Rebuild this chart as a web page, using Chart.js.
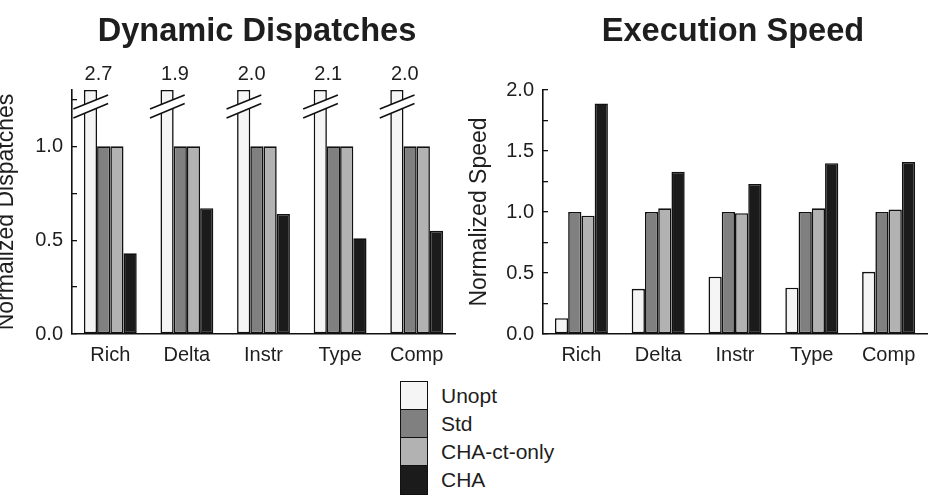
<!DOCTYPE html>
<html>
<head>
<meta charset="utf-8">
<script src="https://cdn.jsdelivr.net/npm/chart.js@4.4.1/dist/chart.umd.min.js"></script>
<style>
  html, body { margin: 0; padding: 0; background: #fff; }
  body { width: 934px; height: 497px; overflow: hidden; position: relative;
         font-family: 'Liberation Sans', Arial, sans-serif; color: #1e1e1e; }
  #c1 { position: absolute; left: 0; top: 0; }
  #c2 { position: absolute; left: 467px; top: 0; }
  #legend { position: absolute; left: 400px; top: 381px; width: 200px; height: 116px; }
  .sw { position: absolute; left: 0; width: 27.5px; height: 29.5px; box-sizing: border-box; border: 1.6px solid #111; }
  .lb { position: absolute; left: 41px; font-size: 21px; line-height: 29.5px; height: 29.5px; white-space: nowrap; }
</style>
</head>
<body>
<canvas id="c1" width="467" height="370"></canvas>
<canvas id="c2" width="467" height="370"></canvas>
<div id="legend"></div>
<script>
// ---- data ----
const categories   = ['Rich', 'Delta', 'Instr', 'Type', 'Comp'];
const seriesNames  = ['Unopt', 'Std', 'CHA-ct-only', 'CHA'];
const seriesColors = ['#f5f5f5', '#808080', '#b2b2b2', '#1b1b1b'];

// Dynamic Dispatches (normalized)
const dispUnopt  = [2.7, 1.9, 2.0, 2.1, 2.0];
const dispStd    = [1.0, 1.0, 1.0, 1.0, 1.0];
const dispCtOnly = [1.0, 1.0, 1.0, 1.0, 1.0];
const dispCha    = [0.43, 0.67, 0.64, 0.51, 0.55];

// Execution Speed (normalized)
const speedUnopt  = [0.13, 0.37, 0.47, 0.38, 0.51];
const speedStd    = [1.0, 1.0, 1.0, 1.0, 1.0];
const speedCtOnly = [0.97, 1.03, 0.99, 1.03, 1.02];
const speedCha    = [1.89, 1.33, 1.23, 1.40, 1.41];

// axis ticks
const dispTicks  = [0, 0.25, 0.5, 0.75, 1.0, 1.25];
const speedTicks = [0, 0.25, 0.5, 0.75, 1.0, 1.25, 1.5, 1.75, 2.0];
const DISP_MAX = 1.3;
const SPEED_MAX = 2.0;

// ---- styling ----
const FONT = "'Liberation Sans', Arial, sans-serif";
const TXT = '#1e1e1e';
const INK = '#111';

function isHalf(v) { return Math.abs(v * 2 - Math.round(v * 2)) < 1e-9; }

function makeDatasets(series) {
  return series.map((d, i) => ({
    label: seriesNames[i],
    data: d,
    backgroundColor: seriesColors[i],
    borderColor: INK,
    borderWidth: 1.6,
    borderSkipped: false,
    categoryPercentage: 0.69,
    barPercentage: 1.0
  }));
}

// shift the title horizontally (title box otherwise centred on the canvas)
const titleShift = {
  id: 'titleShift',
  afterLayout(chart, args, opts) {
    const t = chart.titleBlock;
    if (t) { t.left += opts.dx || 0; t.right += opts.dx || 0; }
  }
};

// Break marks + real values above clipped bars (left chart)
const breakPlugin = {
  id: 'breakMarks',
  afterDatasetsDraw(chart) {
    const ctx = chart.ctx;
    const top = chart.chartArea.top;
    const meta = chart.getDatasetMeta(0);
    ctx.save();
    meta.data.forEach((bar, i) => {
      const v = dispUnopt[i];
      if (v <= DISP_MAX) return;
      const w = bar.width;
      const L = bar.x - w / 2, R = bar.x + w / 2;
      const x1 = L - 10.5, x2 = R + 11;
      const u1 = top + 19, u2 = top + 5;
      const l1 = top + 28, l2 = top + 13.5;
      ctx.fillStyle = '#fff';
      ctx.beginPath();
      ctx.moveTo(x1, u1); ctx.lineTo(x2, u2); ctx.lineTo(x2, l2); ctx.lineTo(x1, l1);
      ctx.closePath(); ctx.fill();
      ctx.strokeStyle = INK; ctx.lineWidth = 1.6;
      ctx.beginPath();
      ctx.moveTo(x1, u1); ctx.lineTo(x2, u2);
      ctx.moveTo(x1, l1); ctx.lineTo(x2, l2);
      ctx.stroke();
      ctx.fillStyle = TXT;
      ctx.font = '20px ' + FONT;
      ctx.textAlign = 'center';
      ctx.textBaseline = 'middle';
      ctx.fillText(v.toFixed(1), bar.x + w * 0.6, top - 15.5);
    });
    ctx.restore();
  }
};

function makeChart(canvasId, opts) {
  return new Chart(document.getElementById(canvasId), {
    type: 'bar',
    data: { labels: categories, datasets: makeDatasets(opts.series) },
    options: {
      responsive: false,
      animation: false,
      devicePixelRatio: 1,
      layout: { padding: { left: 0, right: opts.padRight, top: 0, bottom: 0 } },
      plugins: {
        legend: { display: false },
        tooltip: { enabled: false },
        titleShift: { dx: opts.titleDx },
        title: {
          display: true,
          text: opts.title,
          color: TXT,
          font: { family: FONT, size: 32.6, weight: 'bold', lineHeight: 1.2 },
          padding: { top: 12, bottom: 38.9 }
        }
      },
      scales: {
        x: {
          grid: { display: false, drawTicks: false },
          border: { display: true, color: INK, width: 1.6 },
          ticks: { color: TXT, font: { family: FONT, size: 20 }, padding: 9, maxRotation: 0 },
          afterFit(s) { s.height = 36; }
        },
        y: {
          min: 0,
          max: opts.max,
          afterBuildTicks(s) { s.ticks = opts.ticks.map(v => ({ value: v })); },
          grid: { display: true, drawOnChartArea: false, drawTicks: true, tickLength: -5, color: INK, lineWidth: 1.3 },
          border: { display: true, color: INK, width: 1.6 },
          ticks: {
            color: TXT, font: { family: FONT, size: 20 }, padding: 14,
            callback(v) { return isHalf(v) ? Number(v).toFixed(1) : ''; }
          },
          title: {
            display: true, text: opts.yTitle, color: TXT,
            font: { family: FONT, size: 23, lineHeight: 1.2 },
            padding: { top: opts.yTitleOffset, bottom: 0 }
          },
          afterFit(s) { s.width = opts.yWidth; }
        }
      }
    },
    plugins: [titleShift].concat(opts.plugins || [])
  });
}

makeChart('c1', {
  title: 'Dynamic Dispatches',
  yTitle: 'Normalized Dispatches',
  series: [dispUnopt.map(v => Math.min(v, DISP_MAX)), dispStd, dispCtOnly, dispCha],
  max: DISP_MAX,
  ticks: dispTicks,
  padRight: 12, yWidth: 72,
  yTitleOffset: 7 - 13.8,
  titleDx: 29.5,
  plugins: [breakPlugin]
});

makeChart('c2', {
  title: 'Execution Speed',
  yTitle: 'Normalized Speed',
  series: [speedUnopt, speedStd, speedCtOnly, speedCha],
  max: SPEED_MAX,
  ticks: speedTicks,
  padRight: 7, yWidth: 76,
  yTitleOffset: 13 - 13.8,
  titleDx: 36
});

// ---- legend (HTML) ----
const lg = document.getElementById('legend');
seriesNames.forEach((name, i) => {
  const sw = document.createElement('div');
  sw.className = 'sw';
  sw.style.top = (i * 28) + 'px';
  sw.style.background = seriesColors[i];
  lg.appendChild(sw);
  const lb = document.createElement('div');
  lb.className = 'lb';
  lb.style.top = (i * 28) + 'px';
  lb.textContent = name;
  lg.appendChild(lb);
});
</script>
</body>
</html>
